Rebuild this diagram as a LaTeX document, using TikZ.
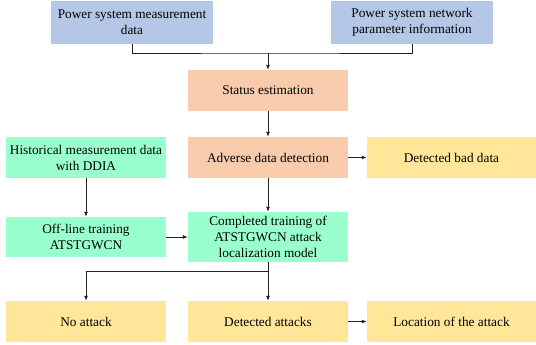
\documentclass[tikz,border=0pt]{standalone}
\usepackage{fontspec}
\setmainfont{Liberation Serif}
\usetikzlibrary{arrows.meta}
\definecolor{cblue}{HTML}{B4C7E7}
\definecolor{corange}{HTML}{F8CBAD}
\definecolor{cgreen}{HTML}{99FFCC}
\definecolor{cyellow}{HTML}{FFE699}
\definecolor{cline}{HTML}{222222}
\tikzset{
  box/.style={rectangle, inner sep=0pt, minimum width=160pt, minimum height=41pt, align=center,
    font=\fontsize{13.3}{16}\selectfont, text=black},
  arr/.style={draw=cline, line width=0.8pt, -{Latex[length=5pt,width=4pt]}},
  ln/.style={draw=cline, line width=0.8pt},
}
\begin{document}
\begin{tikzpicture}[x=1pt,y=-1pt]
\useasboundingbox (0,0) rectangle (536,345);
\node[box, fill=cblue, minimum width=162pt, minimum height=43pt] (pm) at (132,22.5) {Power system measurement\\data};
\node[box, fill=cblue, minimum width=162pt, minimum height=43pt] (pn) at (412,22.5) {Power system network\\parameter information};
\node[box, fill=corange] (se) at (268,90.5) {Status estimation};
\node[box, fill=corange] (ad) at (268,157.5) {Adverse data detection};
\node[box, fill=cgreen] (hist) at (86,157.5) {Historical measurement data\\with DDIA};
\node[box, fill=cyellow, minimum width=169pt] (bad) at (451.5,157.5) {Detected bad data};
\node[box, fill=cgreen, minimum height=40pt] (off) at (86,237) {Off-line training\\ATSTGWCN};
\node[box, fill=cgreen, minimum height=50pt] (comp) at (268,237) {Completed training of\\ATSTGWCN attack\\localization model};
\node[box, fill=cyellow] (no) at (86,321.5) {No attack};
\node[box, fill=cyellow] (det) at (268,321.5) {Detected attacks};
\node[box, fill=cyellow, minimum width=169pt] (loc) at (451.5,321.5) {Location of the attack};

\coordinate (m) at (268,53);
\coordinate (s) at (268,271);
\draw[ln] (pm.south) |- (m) -| (pn.south);
\draw[arr] (m) -- (se.north);
\draw[arr] (se.south) -- (ad.north);
\draw[arr] (ad.east) -- (bad.west);
\draw[arr] (ad.south) -- (comp.north);
\draw[arr] (hist.south) -- (off.north);
\draw[arr] (off.east) -- (comp.west);
\draw[ln] (comp.south) -- (s);
\draw[arr] (s) -| (no.north);
\draw[arr] (s) -- (det.north);
\draw[arr] (det.east) -- (loc.west);
\end{tikzpicture}
\end{document}
